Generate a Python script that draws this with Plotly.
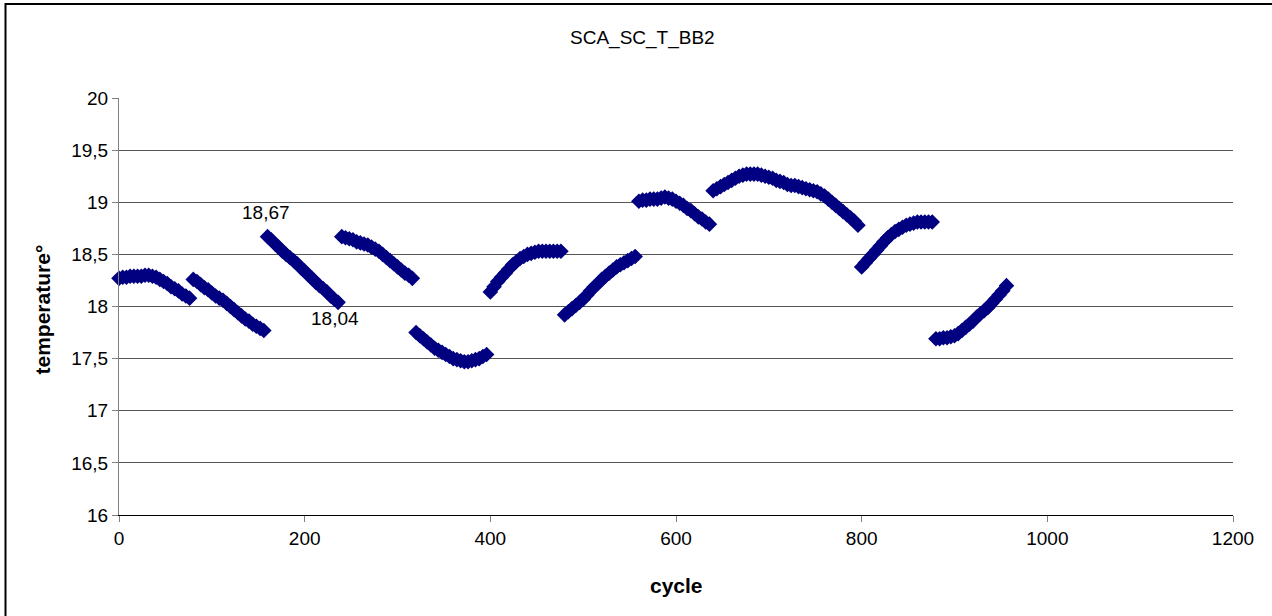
import plotly.graph_objects as go

run_starts = [0, 80, 160, 240, 320, 400, 480, 560, 640, 720, 800, 880]
run_step = 4

run_01 = [18.27, 18.28, 18.28, 18.29, 18.29, 18.29, 18.29, 18.30, 18.30, 18.29,
          18.28, 18.26, 18.24, 18.22, 18.19, 18.17, 18.15, 18.12, 18.10, 18.08]
run_02 = [18.26, 18.24, 18.21, 18.18, 18.16, 18.13, 18.10, 18.08, 18.06, 18.03,
          18.00, 17.97, 17.94, 17.91, 17.88, 17.86, 17.83, 17.81, 17.79, 17.77]
run_03 = [18.67, 18.64, 18.60, 18.57, 18.53, 18.50, 18.47, 18.44, 18.41, 18.37,
          18.34, 18.30, 18.27, 18.23, 18.20, 18.17, 18.14, 18.10, 18.07, 18.04]
run_04 = [18.67, 18.66, 18.65, 18.64, 18.62, 18.61, 18.60, 18.59, 18.57, 18.55,
          18.53, 18.50, 18.47, 18.44, 18.41, 18.38, 18.35, 18.32, 18.30, 18.27]
run_05 = [17.75, 17.72, 17.69, 17.66, 17.63, 17.60, 17.58, 17.56, 17.54, 17.52,
          17.50, 17.49, 17.48, 17.47, 17.47, 17.48, 17.49, 17.50, 17.52, 17.54]
run_06 = [18.14, 18.19, 18.24, 18.28, 18.32, 18.36, 18.40, 18.43, 18.46, 18.48,
          18.50, 18.51, 18.52, 18.53, 18.53, 18.53, 18.53, 18.53, 18.53, 18.53]
run_07 = [17.92, 17.95, 17.98, 18.01, 18.04, 18.07, 18.11, 18.15, 18.19, 18.22,
          18.26, 18.29, 18.32, 18.35, 18.38, 18.40, 18.42, 18.44, 18.46, 18.48]
run_08 = [19.01, 19.02, 19.02, 19.03, 19.03, 19.03, 19.04, 19.05, 19.04, 19.03,
          19.01, 18.99, 18.97, 18.94, 18.92, 18.89, 18.86, 18.84, 18.81, 18.79]
run_09 = [19.11, 19.13, 19.15, 19.17, 19.19, 19.21, 19.23, 19.25, 19.26, 19.27,
          19.27, 19.27, 19.27, 19.26, 19.25, 19.24, 19.23, 19.21, 19.20, 19.19]
run_10 = [19.17, 19.16, 19.16, 19.15, 19.14, 19.13, 19.12, 19.11, 19.10, 19.08,
          19.06, 19.03, 19.00, 18.97, 18.94, 18.91, 18.88, 18.85, 18.82, 18.78]
run_11 = [18.38, 18.42, 18.46, 18.50, 18.54, 18.58, 18.62, 18.66, 18.69, 18.72,
          18.74, 18.76, 18.78, 18.79, 18.80, 18.81, 18.81, 18.81, 18.81, 18.81]
run_12 = [17.69, 17.69, 17.70, 17.70, 17.71, 17.72, 17.74, 17.77, 17.80, 17.83,
          17.86, 17.90, 17.93, 17.96, 17.99, 18.03, 18.07, 18.11, 18.15, 18.20]

runs = [run_01, run_02, run_03, run_04, run_05, run_06,
        run_07, run_08, run_09, run_10, run_11, run_12]

# labelled points
label_x = [160, 236]
label_y = [18.67, 18.04]
label_text = ["18,67", "18,04"]

x_ticks = [0, 200, 400, 600, 800, 1000, 1200]
y_ticks = [16, 16.5, 17, 17.5, 18, 18.5, 19, 19.5, 20]
y_tick_text = ["16", "16,5", "17", "17,5", "18", "18,5", "19", "19,5", "20"]

FONT = "Liberation Sans, Arial, sans-serif"
NAVY = "#000080"
W, H = 1272, 616
L, R, T, B = 119, 39, 98, 101
PW, PH = W - L - R, H - T - B

fig = go.Figure()
for start, vals in zip(run_starts, runs):
    xs = [start + run_step * i for i in range(len(vals))]
    fig.add_trace(go.Scatter(
        x=xs, y=vals, mode="lines+markers",
        line=dict(color=NAVY, width=8),
        marker=dict(symbol="diamond", size=12, color=NAVY, line=dict(width=0)),
        showlegend=False, cliponaxis=False, hoverinfo="skip",
    ))

annotations = []
shifts = [(-2, 24), (-3, -16)]
for (xv, yv, tx), (dx, dy) in zip(zip(label_x, label_y, label_text), shifts):
    annotations.append(dict(x=xv, y=yv, xref="x", yref="y", text=tx, showarrow=False,
                            xshift=dx, yshift=dy, font=dict(family=FONT, size=19, color="#000")))

annotations.append(dict(x=(642 - L) / PW, y=(T + PH - 38) / PH, xref="paper", yref="paper",
                        text="SCA_SC_T_BB2", showarrow=False, xanchor="center", yanchor="middle",
                        font=dict(family=FONT, size=19, color="#000")))
annotations.append(dict(x=0.5, y=0, xref="paper", yref="paper", yshift=-70,
                        text="<b>cycle</b>", showarrow=False, xanchor="center", yanchor="middle",
                        font=dict(family=FONT, size=21, color="#000")))
annotations.append(dict(x=0, y=0.5, xref="paper", yref="paper", xshift=-77, yshift=-3,
                        text="<b>temperature°</b>", showarrow=False, textangle=-90,
                        xanchor="center", yanchor="middle",
                        font=dict(family=FONT, size=21, color="#000")))

fig.update_layout(
    width=W, height=H,
    margin=dict(l=L, r=R, t=T, b=B, pad=0),
    paper_bgcolor="white", plot_bgcolor="white",
    font=dict(family=FONT, size=19, color="#000"),
    annotations=annotations,
    hovermode=False,
    shapes=[dict(type="rect", xref="paper", yref="paper",
                 x0=(5.5 - L) / PW, x1=(W + 10 - L) / PW,
                 y0=-(H + 10 - (T + PH)) / PH, y1=(T + PH - 4) / PH,
                 line=dict(color="#000", width=2), fillcolor="rgba(0,0,0,0)", layer="below")],
    xaxis=dict(range=[0, 1200], tickvals=x_ticks, ticks="outside", ticklen=6,
               tickcolor="#808080", showgrid=False, zeroline=False,
               showline=True, linecolor="#000", linewidth=1,
               tickfont=dict(family=FONT, size=19, color="#000")),
    yaxis=dict(range=[16, 20], tickvals=y_ticks, ticktext=y_tick_text, ticks="outside",
               ticklen=6, tickcolor="#808080", showgrid=True, gridcolor="#555555",
               gridwidth=1, zeroline=False, showline=True, linecolor="#808080",
               linewidth=1, tickfont=dict(family=FONT, size=19, color="#000")),
)

fig.write_html("out.html", config={"displayModeBar": False},
               post_script="document.body.style.margin='0px';")
